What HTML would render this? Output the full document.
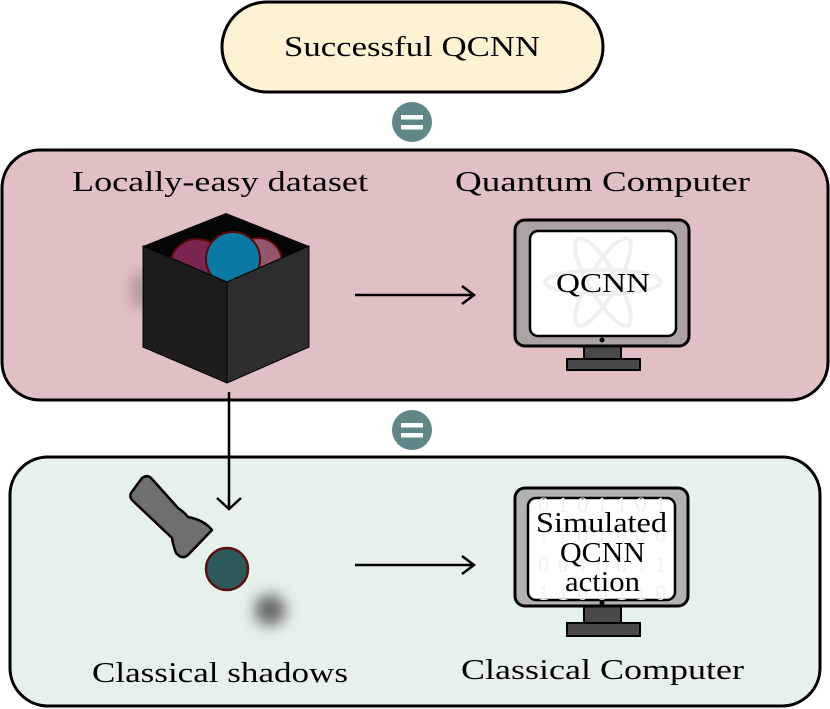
<!DOCTYPE html>
<html><head><meta charset="utf-8"><style>
html,body{margin:0;padding:0;background:#fff;}
svg{display:block;}
text{font-family:"Liberation Serif",serif;fill:#000;}
</style></head><body>
<svg width="830" height="709" viewBox="0 0 830 709" xmlns="http://www.w3.org/2000/svg">
<defs>
<filter id="b1" x="-1" y="-1" width="3" height="3"><feGaussianBlur stdDeviation="7"/></filter>
<filter id="b2" x="-1" y="-1" width="3" height="3"><feGaussianBlur stdDeviation="6"/></filter>
</defs>
<rect x="222" y="2" width="381" height="90" rx="45" fill="#fdf3d2" stroke="#000" stroke-width="3"/>
<text x="284" y="56" font-size="29" textLength="256" lengthAdjust="spacingAndGlyphs">Successful QCNN</text>
<circle cx="412" cy="122" r="20" fill="#5f8787"/>
<rect x="401" y="115" width="22" height="4.5" fill="#fff"/><rect x="401" y="125" width="22" height="4.5" fill="#fff"/>
<rect x="2" y="150" width="826" height="250" rx="38" fill="#e0c0c3" stroke="#000" stroke-width="3"/>
<text x="72" y="191" font-size="29" textLength="296" lengthAdjust="spacingAndGlyphs">Locally-easy dataset</text>
<text x="455" y="191" font-size="29" textLength="295" lengthAdjust="spacingAndGlyphs">Quantum Computer</text>
<ellipse cx="140" cy="290" rx="10" ry="20" fill="#b89a9d" filter="url(#b2)"/>
<polygon points="226,213 143,246 227,282 309,246" fill="#050505"/>
<circle cx="258" cy="262" r="24" fill="#93566c" stroke="#5a0a0a" stroke-width="2"/>
<circle cx="197" cy="266" r="27" fill="#7b2450" stroke="#5a0a0a" stroke-width="2"/>
<circle cx="233" cy="259" r="27" fill="#0a7aa4" stroke="#5a0a0a" stroke-width="2"/>
<polygon points="143,246 227,282 227,383 143,347" fill="#1c1c1c" stroke="#000" stroke-width="1"/>
<polygon points="227,282 309,246 309,347 227,383" fill="#2d2d2d" stroke="#000" stroke-width="1"/>
<line x1="355" y1="295" x2="473" y2="295" stroke="#000" stroke-width="2.5"/>
<polyline points="462,286 474,295 462,304" fill="none" stroke="#000" stroke-width="2.5"/>
<rect x="584" y="345" width="37" height="16" fill="#4a4a4a" stroke="#000" stroke-width="2"/>
<rect x="567" y="359" width="73" height="11" fill="#4a4a4a" stroke="#000" stroke-width="2"/>
<rect x="515" y="220" width="174" height="126" rx="10" fill="#ada2a3" stroke="#000" stroke-width="3"/>
<rect x="530" y="231" width="146" height="105" rx="8" fill="#fff" stroke="#000" stroke-width="2.5"/>
<g fill="none" stroke="#f0f0f0" stroke-width="4">
<ellipse cx="603" cy="282" rx="58" ry="12"/>
<ellipse cx="603" cy="282" rx="14" ry="50" transform="rotate(30 603 282)"/>
<ellipse cx="603" cy="282" rx="14" ry="50" transform="rotate(-30 603 282)"/>
</g>
<circle cx="602" cy="340" r="2.5" fill="#000"/>
<text x="556" y="292" font-size="27" textLength="94" lengthAdjust="spacingAndGlyphs">QCNN</text>
<circle cx="412" cy="430" r="20" fill="#5f8787"/>
<rect x="401" y="423" width="22" height="4.5" fill="#fff"/><rect x="401" y="433" width="22" height="4.5" fill="#fff"/>
<rect x="10" y="457" width="810" height="249" rx="38" fill="#e6f1ec" stroke="#000" stroke-width="3"/>
<line x1="229" y1="392" x2="229" y2="508" stroke="#000" stroke-width="2.5"/>
<polyline points="217,498 229,509 241,498" fill="none" stroke="#000" stroke-width="2.5"/>
<path d="M131,493 L142,478 Q148,474 152,479 L178,508 Q184,512 188,517 Q204,520 212,530 L188,555 Q182,560 176,553 Q173,545 172,538 L133,501 Q129,497 131,493 Z" fill="#6d706d" stroke="#000" stroke-width="2.5" stroke-linejoin="round"/>
<circle cx="227" cy="569" r="21" fill="#2c5a5a" stroke="#5a1010" stroke-width="2.5"/>
<circle cx="270" cy="610" r="16" fill="#6a6e6c" filter="url(#b1)"/>
<line x1="355" y1="565" x2="473" y2="565" stroke="#000" stroke-width="2.5"/>
<polyline points="462,556 474,565 462,574" fill="none" stroke="#000" stroke-width="2.5"/>
<rect x="584" y="605" width="37" height="19" fill="#4a4a4a" stroke="#000" stroke-width="2"/>
<rect x="567" y="623" width="73" height="13" fill="#4a4a4a" stroke="#000" stroke-width="2"/>
<rect x="515" y="488" width="173" height="118" rx="10" fill="#b1b3b2" stroke="#000" stroke-width="3"/>
<rect x="528" y="498" width="147" height="102" rx="8" fill="#fff" stroke="#000" stroke-width="2.5"/>
<g font-size="22">
<text x="538" y="512" textLength="128" style="fill:#f2f2f2">0 1 0 1 1 0 1</text>
<text x="538" y="542" textLength="128" style="fill:#f2f2f2">1 1 0 1 0 0 0</text>
<text x="538" y="572" textLength="128" style="fill:#f2f2f2">0 0 1 0 0 1 1</text>
<text x="538" y="600" textLength="128" style="fill:#f2f2f2">1 1 0 0 1 1 0</text>
</g>
<circle cx="602" cy="603" r="2.5" fill="#000"/>
<text x="536" y="532" font-size="28" textLength="131" lengthAdjust="spacingAndGlyphs">Simulated</text>
<text x="560" y="562" font-size="28" textLength="85" lengthAdjust="spacingAndGlyphs">QCNN</text>
<text x="565" y="591" font-size="28" textLength="75" lengthAdjust="spacingAndGlyphs">action</text>
<text x="92" y="682" font-size="29" textLength="256" lengthAdjust="spacingAndGlyphs">Classical shadows</text>
<text x="461" y="679" font-size="29" textLength="283" lengthAdjust="spacingAndGlyphs">Classical Computer</text>
</svg>
</body></html>
